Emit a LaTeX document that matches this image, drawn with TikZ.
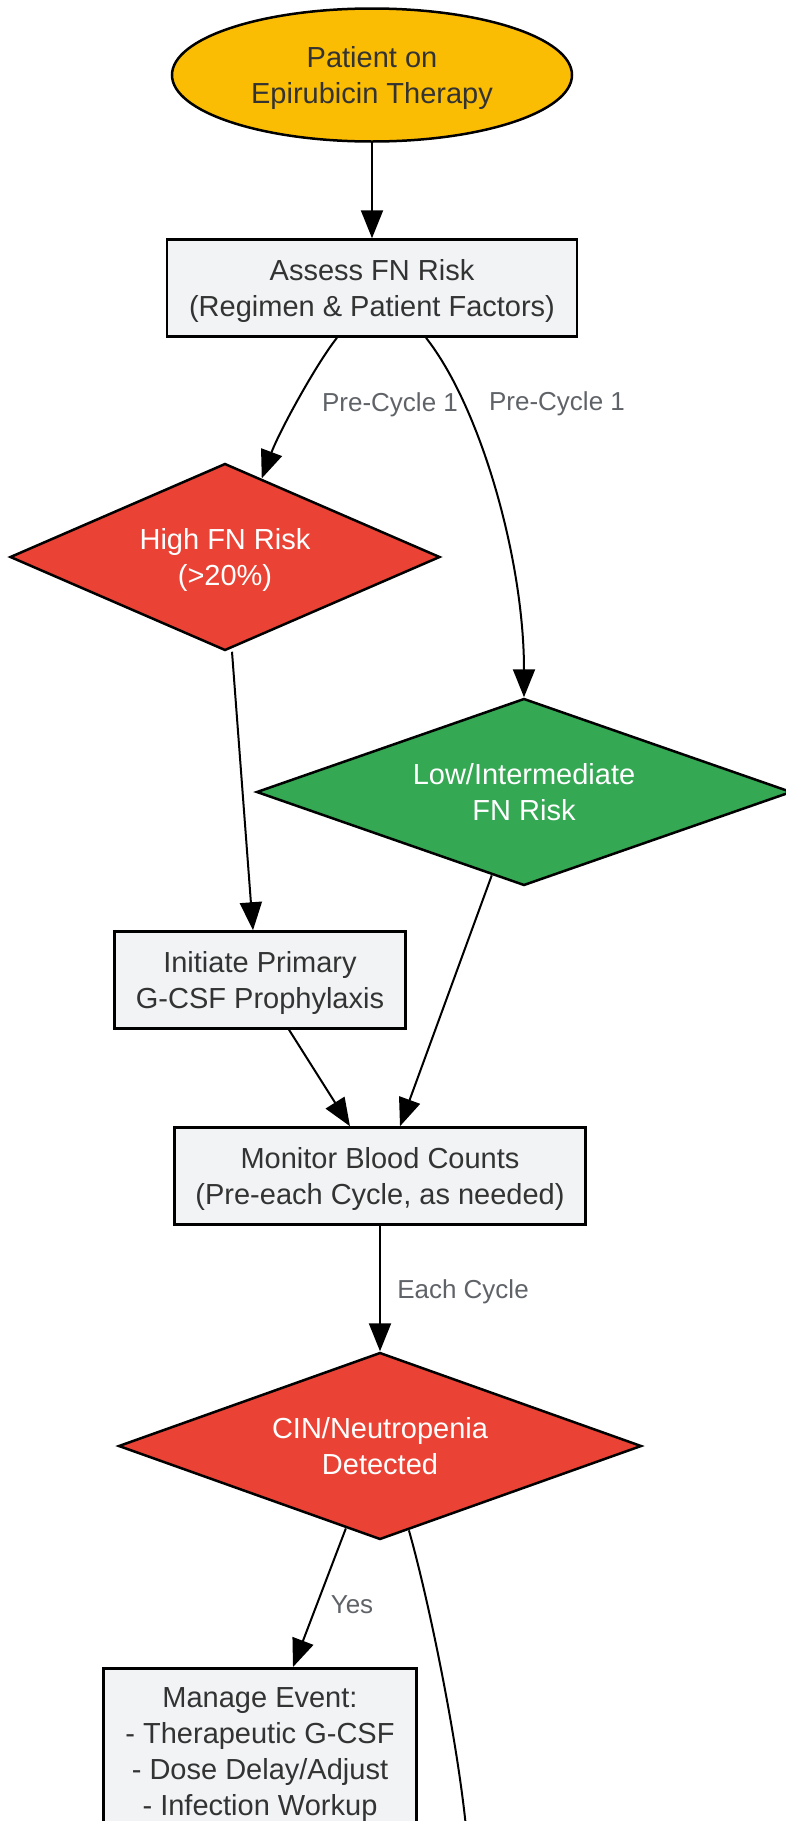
\documentclass[tikz,border=0pt]{standalone}
\usepackage{fontspec}
\setmainfont{Liberation Sans}
\usetikzlibrary{shapes.geometric,arrows.meta,calc}

\begin{document}
\begin{tikzpicture}[x=1pt,y=-1pt,
	lines/.style={align=center,font=\fontsize{29}{36}\selectfont,execute at begin node={\rule{0pt}{67.8pt}},execute at end node={\rule[-10.8pt]{0pt}{10.8pt}}},
	box/.style={lines,draw=black,line width=2.5pt,fill=boxgray,text=darktext,minimum width=#1,minimum height=97pt},
	decision/.style={lines,shape=diamond,draw=black,line width=2.5pt,text=white,aspect=2.3,inner sep=0pt,minimum width=#1,minimum height=187pt},
	elabel/.style={text=labelgray,font=\fontsize{26}{31}\selectfont,inner sep=1pt},
	arr/.style={-{Triangle[length=28pt,width=22pt]},line width=2pt}]
	\definecolor{boxgray}{RGB}{241,243,244}
	\definecolor{darktext}{RGB}{51,51,51}
	\definecolor{labelgray}{RGB}{95,99,104}
	\definecolor{gyellow}{RGB}{251,188,4}
	\definecolor{gred}{RGB}{234,67,53}
	\definecolor{ggreen}{RGB}{52,168,83}

	\useasboundingbox (0,0) rectangle (785,1821);

	\node[lines,ellipse,draw=black,line width=2.5pt,fill=gyellow,text=darktext,minimum width=400pt,minimum height=133pt] (patient) at (372,75) {Patient on\\Epirubicin Therapy};
	\node[box=410pt] (assess) at (372,288) {Assess FN Risk\\(Regimen \& Patient Factors)};
	\node[decision=430pt,fill=gred] (high) at (225,557) {High FN Risk\\(>20\%)};
	\node[decision=535pt,fill=ggreen] (low) at (524,792) {Low/Intermediate\\FN Risk};
	\node[box=291pt] (init) at (260,980) {Initiate Primary\\G-CSF Prophylaxis};
	\node[box=411pt] (monitor) at (380,1176) {Monitor Blood Counts\\(Pre-each Cycle, as needed)};
	\node[decision=523pt,fill=gred] (cin) at (380,1446) {CIN/Neutropenia\\Detected};
	\node[box=313pt,anchor=north,inner ysep=19pt] (manage) at (260,1667) {Manage Event:\\- Therapeutic G-CSF\\- Dose Delay/Adjust\\- Infection Workup};
	\coordinate (nextstep) at (470,1880);

	\draw[arr] (patient) -- (assess);
	\draw[arr] ([xshift=-35pt]assess.south) .. controls +(-20,25) and +(18,-48) .. ($(high.north)!0.17!(high.east)$);
	\draw[arr] ([xshift=54pt]assess.south) .. controls +(55,70) and +(0,-137) .. (low.north);
	\draw[arr] ([xshift=7pt]high.south) -- ([xshift=-7pt]init.north);
	\draw[arr] ($(low.south)!0.12!(low.west)$) -- ([xshift=20pt]monitor.north);
	\draw[arr] ([xshift=29pt]init.south) -- ([xshift=-30pt]monitor.north);
	\draw[arr] (monitor) -- (cin);
	\draw[arr] ($(cin.south)!0.13!(cin.west)$) -- ([xshift=33pt]manage.north);
	\draw[arr] ($(cin.south)!0.11!(cin.east)$) .. controls +(20,70) and +(-8,-120) .. (nextstep);

	\node[elabel] (pre1) at (390,405) {Pre-Cycle 1};
	\node[elabel] (pre2) at (557,404) {Pre-Cycle 1};
	\node[elabel] (eachcyc) at (463,1292) {Each Cycle};
	\node[elabel] (yes) at (352,1605) {Yes};

\end{tikzpicture}
\end{document}
